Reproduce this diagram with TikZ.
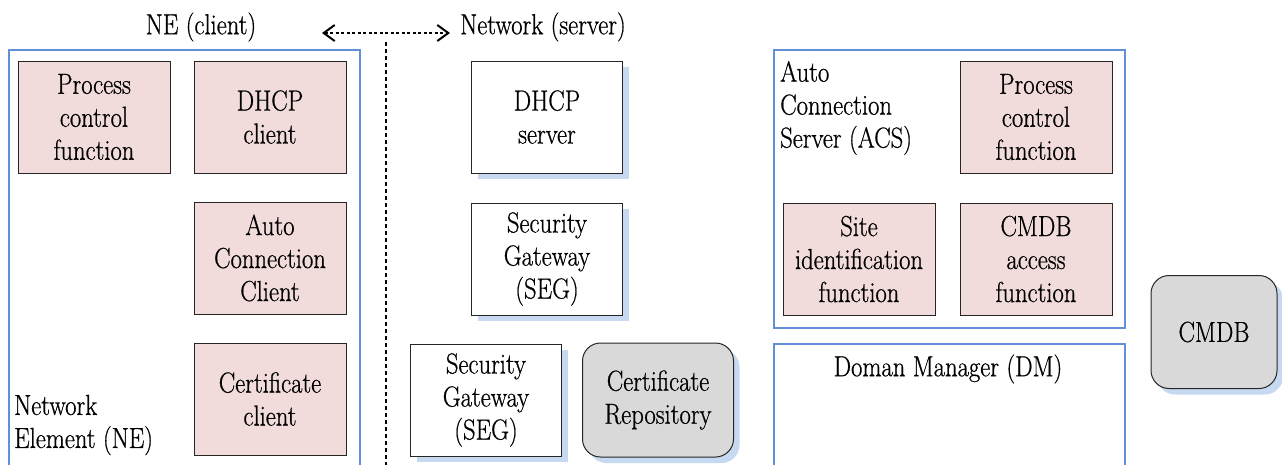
\documentclass[tikz,border=0pt]{standalone}
\usepackage{fontspec}
\setmainfont{Latin Modern Roman}[FakeStretch=0.85,FakeBold=0.6]
\usetikzlibrary{arrows.meta}
\definecolor{boxpink}{RGB}{242,220,219}
\definecolor{boxgray}{RGB}{217,217,217}
\definecolor{shadowblue}{RGB}{198,217,241}
\definecolor{contblue}{RGB}{96,145,215}
\tikzset{
  every node/.style={font=\rmfamily\fontsize{29}{33}\selectfont, inner sep=0pt, align=center},
  container/.style={draw=contblue, line width=2.4pt, anchor=north west},
  funcbox/.style={draw=black!85, line width=1pt, fill=boxpink, minimum width=152pt, minimum height=112pt},
  srvbox/.style={draw=black!85, line width=1pt, fill=white, minimum width=151pt, minimum height=112pt,
    preaction={fill=shadowblue, transform canvas={shift={(6pt,-6pt)}}}},
  dbbox/.style={draw=black!85, line width=1pt, fill=boxgray, rounded corners=18pt,
    preaction={fill=shadowblue, transform canvas={shift={(6pt,-6pt)}}}},
  divider/.style={line width=2pt, dash pattern=on 4pt off 3pt},
  biarrow/.style={line width=2pt, dash pattern=on 3pt off 2.5pt, {Straight Barb[length=11pt,width=16pt,line width=2pt]}-{Straight Barb[length=11pt,width=16pt,line width=2pt]}}
}
\begin{document}
\begin{tikzpicture}[x=1pt,y=-1pt]
\useasboundingbox (0,0) rectangle (1282,464);
\clip (0,0) rectangle (1282,464);
\fill[white] (0,0) rectangle (1282,464);

% containers
\node[container, minimum width=351pt, minimum height=440pt] (ne) at (8,49) {};
\node[container, minimum width=351pt, minimum height=278pt] (acs) at (773,49) {};
\node[container, minimum width=351pt, minimum height=140pt] (dm) at (773,343) {};

% titles
\node (netitle) at (201,27) {NE (client)};
\node (nettitle) at (543,27) {Network (server)};
\node[anchor=west, align=left] (nelabel) at (14,425) {Network\\Element (NE)};
\node[anchor=west, align=left] (acslabel) at (780,108) {Auto\\Connection\\Server (ACS)};
\node (dmlabel) at (948,369) {Doman Manager (DM)};

% NE functions
\node[funcbox] (pcf1) at (94,117) {Process\\control\\function};
\node[funcbox] (dhcpc) at (270,117) {DHCP\\client};
\node[funcbox] (acc) at (270,258) {Auto\\Connection\\Client};
\node[funcbox] (certc) at (270,399) {Certificate\\client};

% divider and arrow
\coordinate (divtop) at (386,42);
\coordinate (divbot) at (386,470);
\draw[divider] (divtop) -- (divbot);
\coordinate (arl) at (322,33);
\coordinate (arr) at (450,33);
\draw[biarrow] (arl) -- (arr);

% network servers
\node[srvbox] (dhcps) at (547,117) {DHCP\\server};
\node[srvbox] (seg1) at (547,259) {Security\\Gateway\\(SEG)};
\node[srvbox] (seg2) at (486,400) {Security\\Gateway\\(SEG)};
\node[dbbox, minimum width=151pt, minimum height=114pt] (certrep) at (658,400) {Certificate\\Repository};

% ACS functions
\node[funcbox] (pcf2) at (1036,117) {Process\\control\\function};
\node[funcbox] (sif) at (859,259) {Site\\identification\\function};
\node[funcbox] (caf) at (1036,259) {CMDB\\access\\function};

% CMDB
\node[dbbox, minimum width=126pt, minimum height=113pt] (cmdb) at (1214,332) {CMDB};
\end{tikzpicture}
\end{document}
